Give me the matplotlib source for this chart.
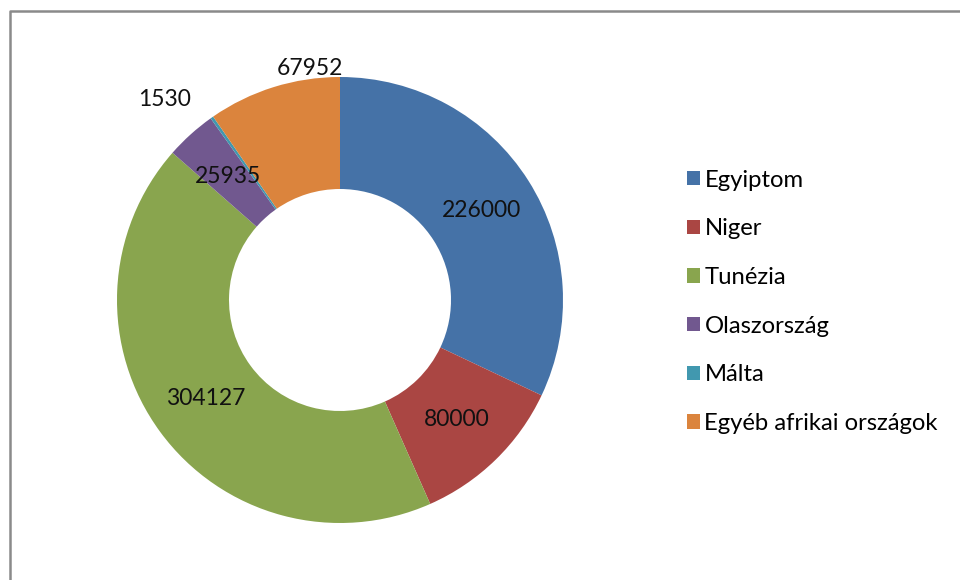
import matplotlib.pyplot as plt
import numpy as np
from matplotlib.patches import Patch
from matplotlib.lines import Line2D

plt.rcParams['font.family'] = ['Lato', 'DejaVu Sans']

# adatok
orszagok = ['Egyiptom', 'Niger', 'Tunézia', 'Olaszország', 'Málta', 'Egyéb afrikai országok']
ertekek = [226000, 80000, 304127, 25935, 1530, 67952]
szinek = ['#4572A7', '#AA4643', '#89A54E', '#71588F', '#4198AF', '#DB843D']

W, H = 960, 580
fig = plt.figure(figsize=(W / 100, H / 100), dpi=100)

# kör középpontja és sugara pixelben
cx, cy, R = 340, 300, 223
half = 250
ax = fig.add_axes([(cx - half) / W, (H - cy - half) / H, 2 * half / W, 2 * half / H])

wedges, _ = ax.pie(ertekek, colors=szinek, startangle=90, counterclock=False,
                   radius=R, wedgeprops=dict(width=R - 111, linewidth=0))
ax.set_xlim(-half, half)
ax.set_ylim(-half, half)
ax.set_aspect('equal')
ax.axis('off')

# címkék a gyűrű közepén, a kis szeletek címkéi kívül
rmid = (R + 111) / 2
kulso = {4: (-0.785, 0.897), 5: (-0.135, 1.04)}
for i, w in enumerate(wedges):
    if i in kulso:
        x, y = kulso[i][0] * R, kulso[i][1] * R
    else:
        ang = np.deg2rad((w.theta1 + w.theta2) / 2)
        x, y = rmid * np.cos(ang), rmid * np.sin(ang)
    ax.text(x, y, str(ertekek[i]), ha='center', va='center', fontsize=16.5, color='#111111')

handles = [Patch(facecolor=c, edgecolor='none') for c in szinek]
fig.legend(handles, orszagok, loc='upper left', bbox_to_anchor=(677 / W, 1 - 160 / H),
           frameon=False, fontsize=17.2, handlelength=0.55, handleheight=0.55,
           handletextpad=0.2, labelspacing=1.16, borderaxespad=0)

# keret (bal és felső él)
fig.add_artist(Line2D([10 / W, 10 / W, 1], [0, 1 - 11 / H, 1 - 11 / H],
                      transform=fig.transFigure, color='#8a8a8a', linewidth=1.8))

fig.savefig('out.png', dpi=100)
